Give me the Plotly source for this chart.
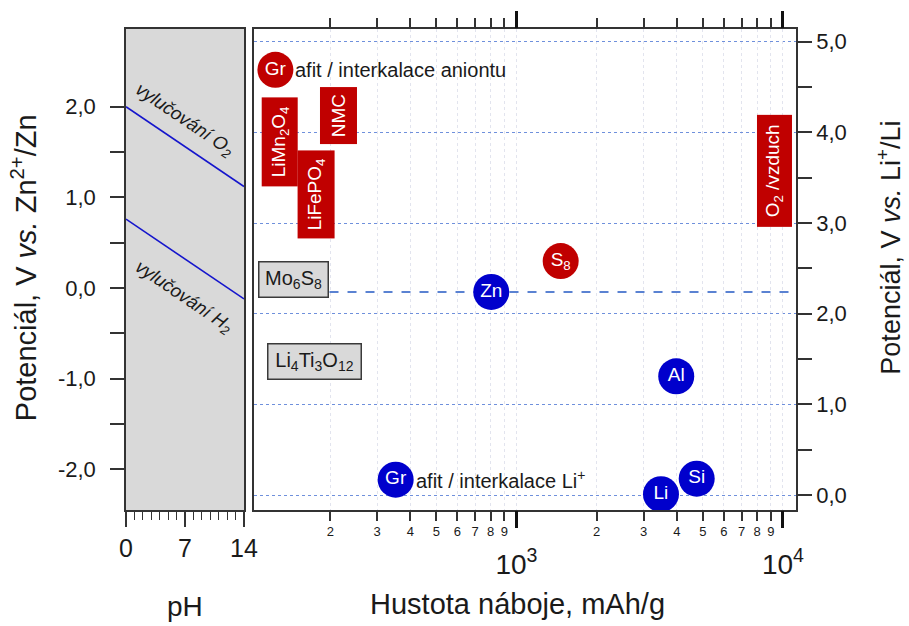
import numpy as np
import plotly.graph_objects as go

# ---------------- data ----------------
# left panel: water stability window vs pH (V vs. Zn2+/Zn)
ph = [0, 14]
o2_evolution = [2.0, 1.12]
h2_evolution = [0.76, -0.12]

# right panel: electrode materials, capacity (mAh/g) and potential (V vs. Li+/Li)
circle_labels = ["Gr", "Gr", "Zn", "S<sub>8</sub>", "Al", "Si", "Li"]
circle_capacity = [124.5, 352, 804, 1465, 3977, 4746, 3485]
circle_potential = [4.69, 0.17, 2.24, 2.58, 1.31, 0.18, 0.01]
circle_kind = ["cathode", "anode", "anode", "cathode", "anode", "anode", "anode"]

box_labels = ["LiMn<sub>2</sub>O<sub>4</sub>", "LiFePO<sub>4</sub>", "NMC", "O<sub>2</sub> /vzduch"]
box_capacity = [129.6, 177.6, 213.9, 9290]
box_potential = [3.89, 3.31, 4.18, 3.58]

grey_labels = ["Mo<sub>6</sub>S<sub>8</sub>", "Li<sub>4</sub>Ti<sub>3</sub>O<sub>12</sub>"]
grey_capacity = [145.6, 175]
grey_potential = [2.375, 1.476]

gr_notes = ["afit / interkalace aniontu", "afit / interkalace Li<sup>+</sup>"]
zn_line_potential = 2.24

zn_ticks = [-2, -1, 0, 1, 2]
zn_ticktext = ["-2,0", "-1,0", "0,0", "1,0", "2,0"]
li_ticks = [0, 1, 2, 3, 4, 5]
li_ticktext = ["0,0", "1,0", "2,0", "3,0", "4,0", "5,0"]
minor_cap_ticks = [200, 300, 400, 500, 600, 700, 800, 900, 2000, 3000, 4000, 5000, 6000, 7000, 8000, 9000]
minor_cap_text = ["2", "3", "4", "5", "6", "7", "8", "9", "2", "3", "4", "5", "6", "7", "8", "9"]
major_cap_ticks = [1000, 10000]
major_cap_text = ["10<sup>3</sup>", "10<sup>4</sup>"]

# ---------------- style ----------------
FONT = "Liberation Sans, Arial, sans-serif"
LINE = "#333333"
RED = "#C00000"
BLUE = "#0000CC"
ZN_VS_LI = 2.283
LI_RANGE = [-0.165, 5.140]
ZN_RANGE = [LI_RANGE[0] - ZN_VS_LI, LI_RANGE[1] - ZN_VS_LI]
LOG_RANGE = [2.016, 4.049]
XMAX = 10 ** LOG_RANGE[1]

fig = go.Figure()

fig.add_trace(go.Scatter(x=ph, y=o2_evolution, mode="lines", line=dict(color="#1515cc", width=1.6),
                         xaxis="x", yaxis="y", hoverinfo="skip"))
fig.add_trace(go.Scatter(x=ph, y=h2_evolution, mode="lines", line=dict(color="#1515cc", width=1.6),
                         xaxis="x", yaxis="y", hoverinfo="skip"))

fig.add_trace(go.Scatter(x=[grey_capacity[0], XMAX], y=[zn_line_potential, zn_line_potential], mode="lines",
                         line=dict(color="#5a82d2", width=2, dash="dash"), xaxis="x2", yaxis="y2",
                         hoverinfo="skip"))

colors = {"cathode": RED, "anode": BLUE}
fig.add_trace(go.Scatter(x=circle_capacity, y=circle_potential, mode="markers+text", text=circle_labels,
                         textposition="middle center",
                         marker=dict(size=36, color=[colors[k] for k in circle_kind], line=dict(width=0)),
                         textfont=dict(color="white", size=19, family=FONT),
                         xaxis="x3", yaxis="y2", hoverinfo="skip"))

annotations = []
# Gr notes
for i, note in zip([0, 1], gr_notes):
    annotations.append(dict(x=np.log10(circle_capacity[i]), y=circle_potential[i], xref="x2", yref="y2",
                            text=note, showarrow=False, xanchor="left", yanchor="middle", xshift=18,
                            font=dict(size=20, color="#1a1a1a", family=FONT)))
# red boxes (rotated)
box_sizes = [(89, 36), (88, 37), (57, 37), (112, 35)]
for lab, cap, pot, (w, h) in zip(box_labels, box_capacity, box_potential, box_sizes):
    annotations.append(dict(x=np.log10(cap), y=pot, xref="x2", yref="y2", text=lab, showarrow=False,
                            textangle=-90, width=w, height=h, bgcolor=RED, borderpad=0, borderwidth=0,
                            align="center", valign="middle",
                            font=dict(size=19, color="white", family=FONT)))
# grey boxes
grey_sizes = [(68, 34), (92, 34)]
for lab, cap, pot, (w, h) in zip(grey_labels, grey_capacity, grey_potential, grey_sizes):
    annotations.append(dict(x=np.log10(cap), y=pot, xref="x2", yref="y2", text=lab, showarrow=False,
                            width=w, height=h, bgcolor="#D9D9D9", bordercolor="#3a3a3a", borderwidth=1.5,
                            borderpad=0, align="center", valign="middle",
                            font=dict(size=20, color="#1a1a1a", family=FONT)))
# water window labels
annotations.append(dict(x=6.9, y=1.85, xref="x", yref="y", text="<i>vylučování O<sub>2</sub></i>",
                        showarrow=False, textangle=34, font=dict(size=18.5, color="#1a1a1a", family=FONT)))
annotations.append(dict(x=6.8, y=-0.10, xref="x", yref="y", text="<i>vylučování H<sub>2</sub></i>",
                        showarrow=False, textangle=34, font=dict(size=18.5, color="#1a1a1a", family=FONT)))
# axis titles
annotations.append(dict(x=-0.152, y=0.503, xref="paper", yref="paper", textangle=-90,
                        text="Potenciál, V <i>vs.</i> Zn<sup>2+</sup>/Zn", showarrow=False,
                        xanchor="center", yanchor="middle", font=dict(size=29, color="#1a1a1a", family=FONT)))
annotations.append(dict(x=1.1385, y=0.545, xref="paper", yref="paper", textangle=-90,
                        text="Potenciál, V <i>vs.</i> Li<sup>+</sup>/Li", showarrow=False,
                        xanchor="center", yanchor="middle", font=dict(size=27, color="#1a1a1a", family=FONT)))
annotations.append(dict(x=0.0881, y=-0.2, xref="paper", yref="paper", text="pH", showarrow=False,
                        xanchor="center", yanchor="middle", font=dict(size=28, color="#1a1a1a", family=FONT)))
annotations.append(dict(x=0.585, y=-0.195, xref="paper", yref="paper", text="Hustota náboje, mAh/g",
                        showarrow=False, xanchor="center", yanchor="middle",
                        font=dict(size=29, color="#1a1a1a", family=FONT)))

shapes = [dict(type="rect", xref="x domain", yref="y domain", x0=0, x1=1, y0=0, y1=1,
               fillcolor="#D9D9D9", line=dict(width=0), layer="below")]

fig.update_layout(
    width=909, height=626, margin=dict(l=126, r=113, t=29, b=116),
    paper_bgcolor="white", plot_bgcolor="white", showlegend=False,
    font=dict(family=FONT, color="#1a1a1a"),
    xaxis=dict(domain=[0, 0.1761], range=[0, 14], anchor="y",
               tickvals=[0, 7, 14], ticks="outside", ticklen=15, tickwidth=1.5, tickcolor=LINE,
               minor=dict(tickvals=[1, 2, 3, 4, 5, 6, 8, 9, 10, 11, 12, 13], ticks="outside", ticklen=8,
                          tickwidth=1.2, tickcolor=LINE),
               showline=True, linecolor=LINE, linewidth=1.5, mirror=True, showgrid=False, zeroline=False,
               tickfont=dict(size=25)),
    yaxis=dict(domain=[0, 1], range=ZN_RANGE, anchor="x",
               tickvals=zn_ticks, ticktext=zn_ticktext, ticks="outside", ticklen=14, tickwidth=1.5,
               tickcolor=LINE, ticklabelstandoff=10,
               minor=dict(tickvals=[-1.5, -0.5, 0.5, 1.5], ticks="outside", ticklen=14, tickwidth=1.5,
                          tickcolor=LINE),
               showline=True, linecolor=LINE, linewidth=1.5, mirror=True, showgrid=False, zeroline=False,
               tickfont=dict(size=22)),
    xaxis2=dict(domain=[0.1915, 1], type="log", range=LOG_RANGE, anchor="y2",
                tickvals=minor_cap_ticks, ticktext=minor_cap_text, ticks="outside", ticklen=9, tickwidth=1.5,
                tickcolor=LINE, tickfont=dict(size=13),
                showline=True, linecolor=LINE, linewidth=1.5, mirror="ticks",
                showgrid=True, gridcolor="#e2e4ee", griddash="dot", gridwidth=1, zeroline=False),
    xaxis3=dict(overlaying="x2", type="log", range=LOG_RANGE, anchor="y2", side="bottom",
                tickvals=major_cap_ticks, ticktext=major_cap_text, ticks="outside", ticklen=17, tickwidth=3,
                tickcolor="#111111", tickfont=dict(size=28), ticklabelstandoff=12, mirror="ticks",
                showline=False, showgrid=True, gridcolor="#e2e4ee", griddash="dot", zeroline=False),
    yaxis2=dict(domain=[0, 1], range=LI_RANGE, anchor="x2", side="right",
                tickvals=li_ticks, ticktext=li_ticktext, ticks="outside", ticklen=14, tickwidth=1.5,
                tickcolor=LINE,
                minor=dict(tickvals=[0.5, 1.5, 2.5, 3.5, 4.5], ticks="outside", ticklen=14, tickwidth=1.5,
                           tickcolor=LINE, showgrid=False),
                showline=True, linecolor=LINE, linewidth=1.5, mirror=True,
                showgrid=True, gridcolor="#6f90dc", griddash="dot", gridwidth=1, zeroline=False,
                tickfont=dict(size=22)),
    annotations=annotations, shapes=shapes,
)

fig.write_html("out.html")
